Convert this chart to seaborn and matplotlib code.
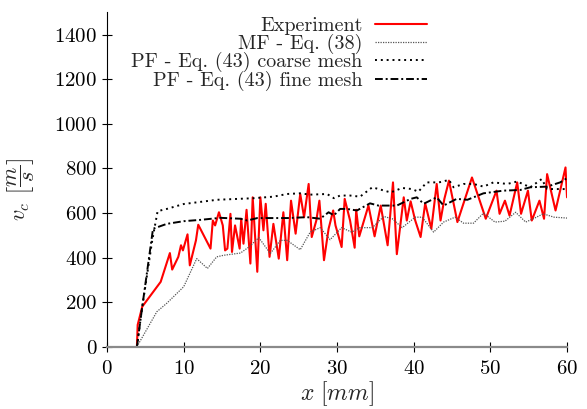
import matplotlib
matplotlib.use("Agg")
import matplotlib.pyplot as plt
import seaborn as sns
import pandas as pd

# ---- data ----
ex_x = [3.9, 4.0, 4.6, 7.0, 8.2, 8.5, 9.3, 9.65, 9.9, 10.5, 10.8, 11.6, 11.9, 13.5, 13.8, 14.1, 14.6, 15.1, 15.4, 15.7,
        16.1, 16.3, 16.7, 17.3, 17.5, 17.8, 18.2, 18.7, 19.0, 19.6, 20.0, 20.4, 20.7, 21.2, 21.7, 22.4, 23.0, 23.5, 24.0, 24.6,
        25.2, 25.7, 26.3, 26.7, 27.3, 27.7, 28.3, 28.9, 29.5, 29.8, 30.6, 31.0, 31.7, 32.3, 32.5, 32.9, 34.1, 34.9, 35.7, 36.6,
        37.3, 37.8, 38.7, 39.1, 39.6, 40.2, 40.9, 41.5, 42.3, 43.0, 43.5, 44.0, 44.6, 45.7, 47.6, 49.4, 50.8, 51.2, 51.9, 52.5,
        53.5, 54.0, 54.9, 55.4, 56.4, 57.0, 57.4, 58.5, 59.8, 60.0]
ex_y = [0, 98, 180, 291, 420, 346, 403, 455, 432, 504, 365, 477, 547, 440, 566, 544, 603, 544, 432, 440,
        596, 425, 544, 440, 574, 462, 614, 373, 670, 336, 670, 522, 641, 403, 551, 395, 603, 388, 655, 507,
        685, 581, 730, 492, 566, 655, 388, 529, 611, 544, 447, 663, 566, 444, 614, 495, 633, 495, 633, 455,
        737, 415, 670, 566, 652, 566, 492, 643, 529, 730, 566, 663, 745, 559, 759, 574, 700, 596, 655, 588,
        737, 596, 700, 566, 655, 574, 774, 611, 804, 670]

mf_x = [3.9, 6.5, 7.8, 10.0, 11.7, 13.1, 14.3, 15.2, 17.4, 18.5, 19.8, 21.3, 22.6, 23.5, 25.2, 26.5, 27.8, 29.1, 30.6, 31.9,
        33.0, 34.6, 36.1, 37.2, 38.5, 40.2, 41.1, 42.6, 43.9, 45.4, 46.5, 47.8, 49.1, 50.6, 51.9, 53.3, 54.6, 55.6, 56.9, 58.3, 60.0]
mf_y = [0, 157, 195, 269, 395, 351, 403, 410, 420, 447, 489, 418, 477, 477, 435, 514, 534, 480, 534, 514,
        534, 534, 584, 574, 534, 581, 581, 514, 559, 581, 554, 554, 599, 559, 563, 603, 559, 574, 596, 581, 577]

co_x = [3.9, 4.6, 5.9, 6.6, 7.8, 10.0, 14.35, 19.1, 21.7, 23.5, 25.2, 26.5, 28.7, 29.6, 30.4, 31.7, 33.0, 34.6, 37.0, 38.5,
        39.8, 40.6, 41.7, 43.3, 44.6, 45.2, 46.5, 47.8, 49.1, 50.4, 52.2, 53.5, 55.2, 56.7, 57.4, 58.7, 60.0]
co_y = [0, 180, 477, 608, 618, 640, 659, 666, 673, 685, 688, 682, 685, 666, 678, 678, 673, 715, 692, 712,
        707, 695, 737, 737, 748, 715, 730, 730, 718, 737, 730, 741, 715, 752, 707, 707, 707]

fi_x = [3.9, 4.6, 6.0, 7.8, 10.0, 12.2, 14.8, 17.4, 18.3, 19.6, 21.7, 23.5, 26.1, 27.8, 28.9, 29.6, 30.4, 31.3, 32.6, 34.3,
        35.4, 37.8, 39.6, 40.4, 41.3, 43.0, 43.9, 45.6, 47.0, 49.1, 51.7, 53.9, 55.2, 57.4, 59.1, 60.0]
fi_y = [0, 180, 529, 551, 563, 569, 578, 574, 566, 577, 577, 577, 581, 574, 603, 589, 618, 618, 611, 643,
        633, 633, 663, 670, 641, 670, 633, 663, 659, 688, 700, 703, 715, 718, 737, 756]

labels = ["Experiment", "MF - Eq. (38)", "PF - Eq. (43) coarse mesh", "PF - Eq. (43) fine mesh"]
x_ticks = [0, 10, 20, 30, 40, 50, 60]
y_ticks = [0, 200, 400, 600, 800, 1000, 1200, 1400]

# ---- style ----
sns.set_style("ticks")
plt.rcParams["font.family"] = ["cmr10", "DejaVu Serif"]
plt.rcParams["mathtext.fontset"] = "cm"
plt.rcParams["axes.formatter.use_mathtext"] = True

fig = plt.figure(figsize=(5.87, 4.09), dpi=100)
ax = fig.add_axes([0.1823, 0.1523, 0.7837, 0.8177])

series = [
    (ex_x, ex_y, dict(color="#ff0000", linewidth=1.5, linestyle="-")),
    (mf_x, mf_y, dict(color="#555555", linewidth=0.9, linestyle=(0, (1, 1)))),
    (co_x, co_y, dict(color="black", linewidth=1.4, linestyle=(0, (1, 2)))),
    (fi_x, fi_y, dict(color="black", linewidth=1.4, linestyle=(0, (4, 1.5, 1, 1.5)))),
]
for (xs, ys, st), lab in zip(series, labels):
    df = pd.DataFrame({"x": xs, "y": ys})
    sns.lineplot(data=df, x="x", y="y", ax=ax, sort=False, estimator=None, label=lab, **st)

ax.set_xlim(0, 60)
ax.set_ylim(0, 1500)
ax.set_xticks(x_ticks)
ax.set_yticks(y_ticks)
ax.tick_params(direction="inout", length=7, width=0.8, labelsize=15, colors="black")
ax.tick_params(axis="x", pad=6)
for s in ["top", "right"]:
    ax.spines[s].set_visible(False)
ax.spines["left"].set_linewidth(0.8)
ax.spines["left"].set_color("black")
ax.spines["bottom"].set_linewidth(1.6)
ax.spines["bottom"].set_color("#8a8a8a")

ax.set_xlabel(r"$x\ [mm]$", fontsize=17, labelpad=1)
ax.set_ylabel(r"$v_c\ \left[\dfrac{m}{s}\right]$", fontsize=16)
ax.yaxis.set_label_coords(-0.152, 0.47)

leg = ax.legend(loc="upper right", bbox_to_anchor=(444 / 587, 1.0), bbox_transform=fig.transFigure,
                frameon=False, markerfirst=False, fontsize=14.5, handlelength=2.6,
                labelspacing=-0.08, borderpad=0.35, handletextpad=0.6)

fig.savefig("out.png", dpi=100)
